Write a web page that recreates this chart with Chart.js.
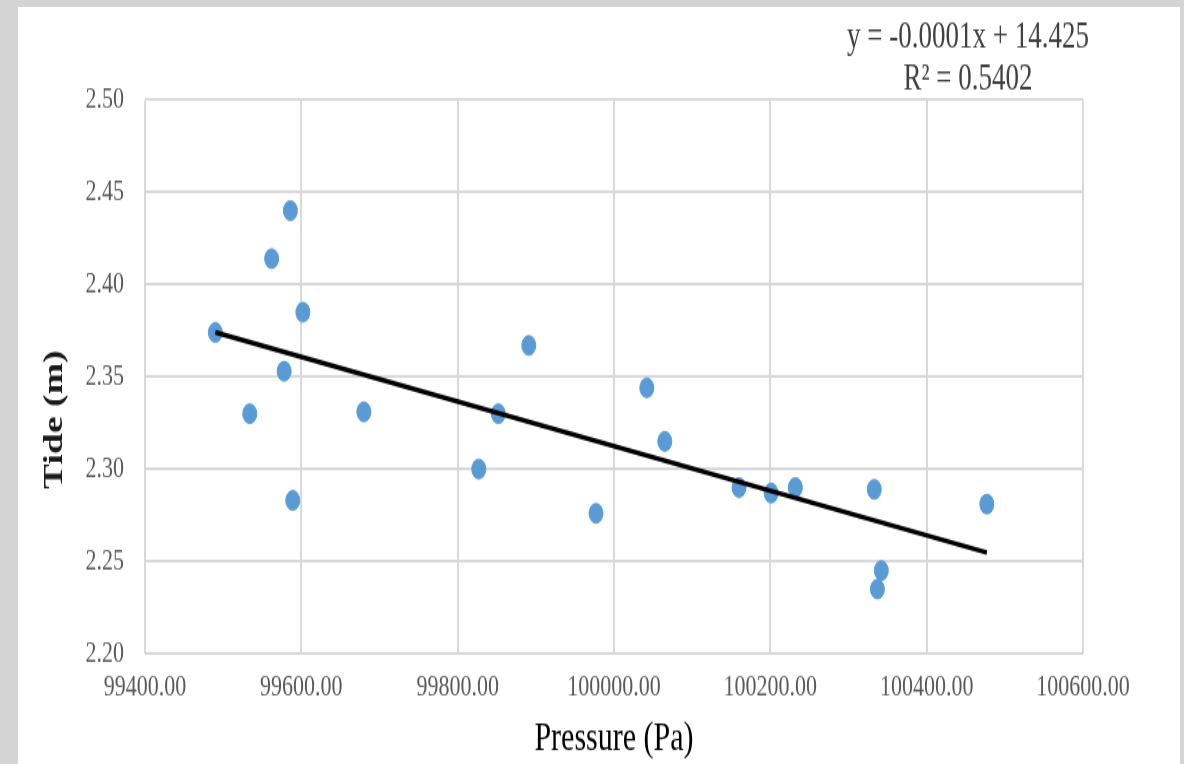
<!DOCTYPE html>
<html>
<head>
<meta charset="utf-8">
<script src="https://cdn.jsdelivr.net/npm/chart.js@4"></script>
<style>
  body { margin: 0; background: #d4d4d4; width: 1184px; height: 764px; overflow: hidden; position: relative; }
  #paper { position: absolute; left: 18px; top: 7px; width: 1162px; height: 757px; background: #fff; }
  /* the source picture is stretched vertically, so the canvas is drawn short and stretched */
  #tide { position: absolute; left: 0; top: 0; width: 1184px !important; height: 764px !important; }
</style>
</head>
<body>
<div id="paper"></div>
<canvas id="tide" width="1184" height="546"></canvas>
<script>
const pressure = [99490, 99534, 99562, 99586, 99578, 99589, 99602, 99680, 99827, 99852, 99891,
                  99977, 100042, 100065, 100160, 100201, 100232, 100333, 100342, 100337, 100477];
const tide = [2.374, 2.330, 2.414, 2.440, 2.353, 2.283, 2.385, 2.331, 2.300, 2.330, 2.367,
              2.276, 2.344, 2.315, 2.290, 2.287, 2.290, 2.289, 2.245, 2.235, 2.281];
const xTicks = [99400, 99600, 99800, 100000, 100200, 100400, 100600];
const yTicks = [2.20, 2.25, 2.30, 2.35, 2.40, 2.45, 2.50];
const equation = ["y = -0.0001x + 14.425", "R\u00B2 = 0.5402"];
const yTitle = "Tide (m)";

// least squares line for the trendline
let n = pressure.length;
let mx = pressure.reduce((a, b) => a + b, 0) / n;
let my = tide.reduce((a, b) => a + b, 0) / n;
let sxy = 0, sxx = 0;
for (let i = 0; i < n; i++) {
  sxy += (pressure[i] - mx) * (tide[i] - my);
  sxx += (pressure[i] - mx) * (pressure[i] - mx);
}
const slope = sxy / sxx;
const icept = my - slope * mx;
const xMin = Math.min(...pressure), xMax = Math.max(...pressure);
const trend = [{x: xMin, y: icept + slope * xMin}, {x: xMax, y: icept + slope * xMax}];

const points = pressure.map((p, i) => ({x: p, y: tide[i]}));

// equation box + y title (title sits lower than the plot middle in the original)
const extraText = {
  id: "extraText",
  afterDraw(chart) {
    const ctx = chart.ctx;
    ctx.save();
    ctx.font = "27px 'Liberation Serif'";
    ctx.fillStyle = "#404040";
    ctx.textAlign = "center";
    ctx.textBaseline = "middle";
    ctx.fillText(equation[0], 968, 27);
    ctx.fillText(equation[1], 968, 57);

    ctx.translate(55, 300);
    ctx.rotate(-Math.PI / 2);
    ctx.font = "bold 27px 'Liberation Serif'";
    ctx.fillStyle = "#1a1a1a";
    ctx.fillText(yTitle, 0, 0);
    ctx.restore();
  }
};

const tickFont = {family: "'Liberation Serif'", size: 22};

new Chart(document.getElementById("tide"), {
  type: "scatter",
  data: {
    datasets: [{
      label: "Tide",
      data: points,
      backgroundColor: "#5b9bd5",
      borderColor: "#5b9bd5",
      pointRadius: 7,
      pointHoverRadius: 7,
      order: 2
    }, {
      label: "Linear",
      type: "line",
      data: trend,
      borderColor: "#000000",
      borderWidth: 3.5,
      pointRadius: 0,
      fill: false,
      order: 1
    }]
  },
  options: {
    responsive: false,
    animation: false,
    layout: {padding: {left: 25, top: 71.4, right: 101, bottom: 0}},
    plugins: {legend: {display: false}, tooltip: {enabled: false}},
    scales: {
      x: {
        type: "linear",
        min: 99400,
        max: 100600,
        afterBuildTicks: (s) => { s.ticks = xTicks.map(v => ({value: v})); },
        afterFit: (s) => { s.height = 78.9; },
        ticks: {
          font: tickFont,
          color: "#595959",
          padding: 11,
          maxRotation: 0,
          callback: (v) => v.toFixed(2)
        },
        grid: {color: "#d9d9d9", lineWidth: 2, drawTicks: false},
        border: {display: false},
        title: {
          display: true,
          text: "Pressure (Pa)",
          color: "#000000",
          font: {family: "'Liberation Serif'", size: 30},
          padding: 0
        }
      },
      y: {
        type: "linear",
        min: 2.2,
        max: 2.5,
        afterBuildTicks: (s) => { s.ticks = yTicks.map(v => ({value: v})); },
        afterFit: (s) => { s.width = 120; },
        ticks: {
          font: tickFont,
          color: "#595959",
          padding: 21,
          callback: (v) => v.toFixed(2)
        },
        grid: {color: "#d9d9d9", lineWidth: 2, drawTicks: false},
        border: {display: false}
      }
    }
  },
  plugins: [extraText]
});
</script>
</body>
</html>
